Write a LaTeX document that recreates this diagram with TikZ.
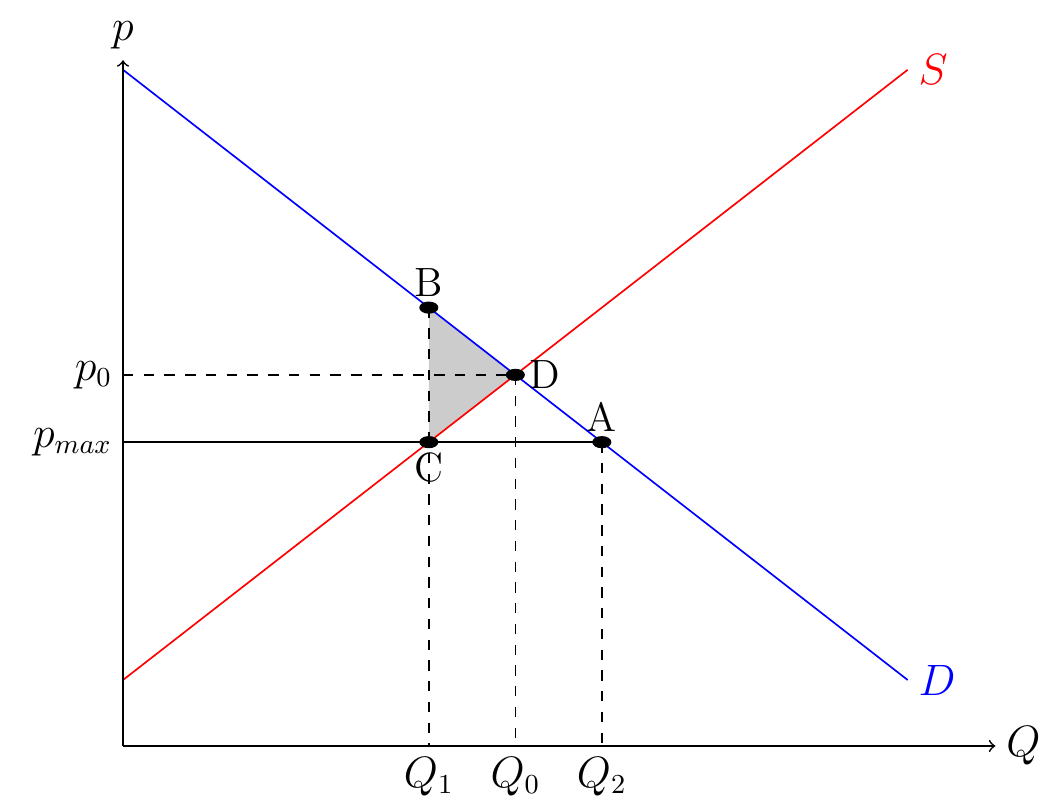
\documentclass[tikz,border=0pt]{standalone}
\usetikzlibrary{positioning}
\tikzset{
  axis/.style={->},
  supply/.style={red},
  demand/.style={blue},
  guide/.style={dash pattern=on 3.4pt off 3.4pt},
  pricecap/.style={black},
  dwl/.style={fill=gray!40},
  dot/.style={fill=black}
}

\begin{document}
\begin{tikzpicture}[line width=0.55pt, every node/.style={font=\fontsize{13.4}{16}\selectfont}]
        \useasboundingbox (-1.417,-0.657) rectangle (10.806,8.594);

        % axes and curves end points
        \coordinate (O) at (0,0);
        \coordinate (xend) at (10.05,0);
        \coordinate (yend) at (0,7.9);
        \coordinate (s0) at (0,0.76);
        \coordinate (s1) at (9.04,7.79);
        \coordinate (d0) at (0,7.79);
        \coordinate (d1) at (9.04,0.76);

        % market points
        \coordinate (A) at (5.516,3.5);
        \coordinate (B) at (3.523,5.05);
        \coordinate (C) at (3.523,3.5);
        \coordinate (D) at (4.52,4.275);
        \coordinate (pmax) at (0,3.5);
        \coordinate (p0) at (0,4.275);
        \coordinate (Q1) at (3.523,0);
        \coordinate (Q0) at (4.52,0);
        \coordinate (Q2) at (5.516,0);

        \fill [dwl] (B) -- (D) -- (C) -- cycle;

        \draw [guide] (p0) -- (D);
        \draw [guide] (D) -- (Q0);
        \draw [guide] (B) -- (Q1);
        \draw [guide] (A) -- (Q2);
        \draw [pricecap] (pmax) -- (A);

        \draw [supply] (s0) -- (s1);
        \draw [demand] (d0) -- (d1);

        \draw [axis] (O) -- (xend);
        \draw [axis] (O) -- (yend);

        \foreach \pt in {A,B,C,D}
            \fill [dot] (\pt) ellipse (0.11 and 0.07);

        \node (plab) [above=0pt of yend] {$p$};
        \node (Qlab) [right=0pt of xend] {$Q$};
        \node (Slab) [right=0pt of s1, red] {$S$};
        \node (Dlab) [right=0pt of d1, blue] {$D$};
        \node (p0lab) [left=0pt of p0] {$p_0$};
        \node (pmaxlab) [left=0pt of pmax] {$p_{max}$};
        \node (Q1lab) [below=0pt of Q1] {$Q_1$};
        \node (Q0lab) [below=0pt of Q0] {$Q_0$};
        \node (Q2lab) [below=0pt of Q2] {$Q_2$};
        \node (Alab) [above=0pt of A] {A};
        \node (Blab) [above=0pt of B] {B};
        \node (Clab) [below=0pt of C] {C};
        \node (Dpt) [right=1pt of D] {D};
    \end{tikzpicture}
\end{document}
